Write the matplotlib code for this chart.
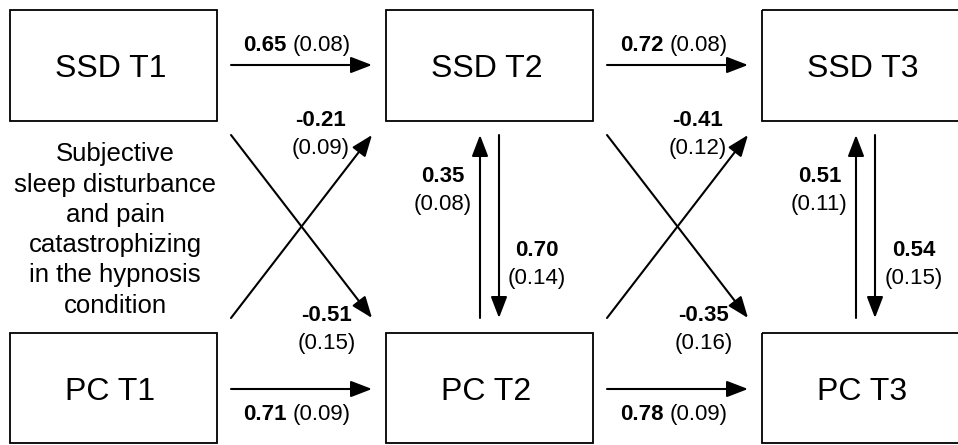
import matplotlib.pyplot as plt
from matplotlib.patches import Rectangle, FancyArrowPatch

# --- 1. Model content ---
ssd_labels = ['SSD T1', 'SSD T2', 'SSD T3']
pc_labels = ['PC T1', 'PC T2', 'PC T3']

# autoregressive paths (T1->T2, T2->T3)
ssd_auto = ['0.65', '0.72']
ssd_auto_se = ['(0.08)', '(0.08)']
pc_auto = ['0.71', '0.78']
pc_auto_se = ['(0.09)', '(0.09)']

# cross-lagged paths
pc_to_ssd = ['-0.21', '-0.41']
pc_to_ssd_se = ['(0.09)', '(0.12)']
ssd_to_pc = ['-0.51', '-0.35']
ssd_to_pc_se = ['(0.15)', '(0.16)']

# within-wave paths (T2, T3)
pc_up = ['0.35', '0.51']
pc_up_se = ['(0.08)', '(0.11)']
ssd_down = ['0.70', '0.54']
ssd_down_se = ['(0.14)', '(0.15)']

side_note = 'Subjective\nsleep disturbance\nand pain\ncatastrophizing\nin the hypnosis\ncondition'

# --- 2. Layout (pixels) ---
box_x = [10, 386, 762]
box_w = 207
top_y, top_h = 10, 111
bot_y, bot_h = 333, 110
step = 376.5

plt.rcParams['font.family'] = ['Liberation Sans', 'DejaVu Sans']

fig = plt.figure(figsize=(9.58, 4.45), dpi=100)
ax = fig.add_axes([0, 0, 1, 1])
ax.set_xlim(0, 958)
ax.set_ylim(445, 0)
ax.axis('off')


def arrow(p0, p1):
    ax.add_patch(FancyArrowPatch(p0, p1, arrowstyle='-|>,head_length=13,head_width=5',
                                 mutation_scale=1, lw=1.5, color='black',
                                 shrinkA=0, shrinkB=0))


def coef(x, y, est, se):
    # bold estimate over normal standard error
    ax.text(x, y, est, fontsize=16, fontweight='bold', ha='center', va='baseline')
    ax.text(x, y + 28, se, fontsize=16, ha='center', va='baseline')


# boxes
for i in range(3):
    ax.add_patch(Rectangle((box_x[i], top_y), box_w, top_h, fill=False, lw=1.3, ec='black'))
    ax.add_patch(Rectangle((box_x[i], bot_y), box_w, bot_h, fill=False, lw=1.3, ec='black'))
    cx = box_x[i] + box_w / 2 - 3
    ax.text(cx, 77, ssd_labels[i], fontsize=23, ha='center', va='baseline')
    ax.text(cx, 400, pc_labels[i], fontsize=23, ha='center', va='baseline')

# arrows between waves
for i in range(2):
    x0 = box_x[i] + box_w + 14
    x1 = box_x[i + 1] - 14
    arrow((x0, 65), (x1, 65))
    arrow((x0, 389), (x1, 389))
    arrow((x0, 318), (x1, 135))
    arrow((x0, 135), (x1, 318))

    dx = i * step
    ax.text(287 + dx, 51, ssd_auto[i], fontsize=16, fontweight='bold', ha='right', va='baseline')
    ax.text(293 + dx, 51, ssd_auto_se[i], fontsize=16, ha='left', va='baseline')
    ax.text(287 + dx, 420, pc_auto[i], fontsize=16, fontweight='bold', ha='right', va='baseline')
    ax.text(293 + dx, 420, pc_auto_se[i], fontsize=16, ha='left', va='baseline')

    coef(321 + dx, 126, pc_to_ssd[i], pc_to_ssd_se[i])
    coef(327 + dx, 321, ssd_to_pc[i], ssd_to_pc_se[i])

# within-wave arrows
for i in range(2):
    cx = box_x[i + 1] + box_w / 2
    arrow((cx - 9.5, 318), (cx - 9.5, 135))
    arrow((cx + 9.5, 135), (cx + 9.5, 318))
    dx = i * step
    coef(443 + dx, 182, pc_up[i], pc_up_se[i])
    coef(537 + dx, 256, ssd_down[i], ssd_down_se[i])

ax.text(115, 230, side_note, fontsize=18.5, ha='center', va='center', linespacing=1.33)

plt.savefig('out.png', dpi=100)
plt.close()
